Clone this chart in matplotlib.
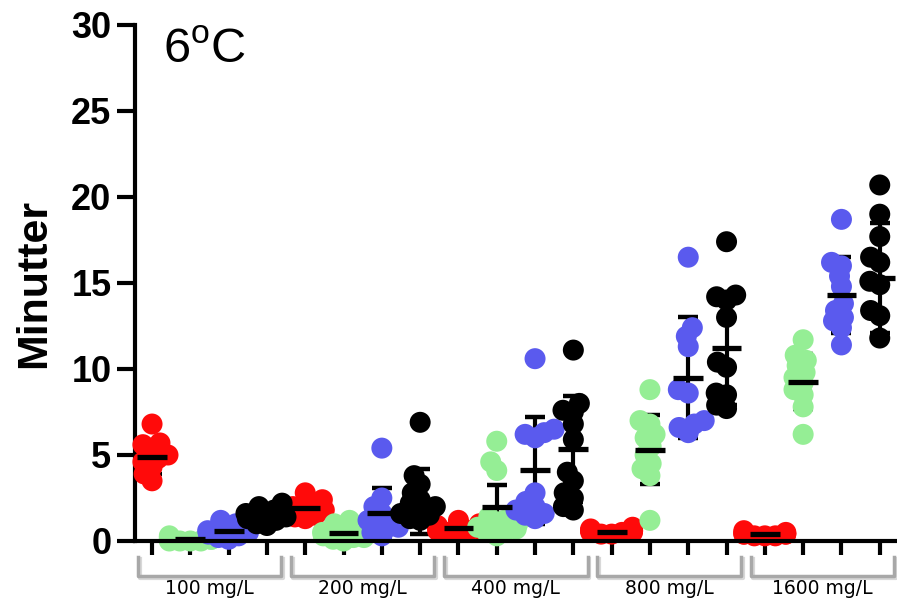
import numpy as np
import matplotlib
matplotlib.use("Agg")
import matplotlib.pyplot as plt
import matplotlib.transforms as mtransforms

# ---------------- data ----------------
groups = ["100 mg/L", "200 mg/L", "400 mg/L", "800 mg/L", "1600 mg/L"]
series_colors = ["#ff0a0a", "#95ee95", "#5a5aee", "#000000"]

red_vals = [
    [6.8, 5.7, 5.6, 5.3, 5.0, 4.8, 4.6, 4.3, 3.9, 3.5],
    [2.8, 2.4, 2.1, 1.9, 1.8, 1.6, 1.4, 1.3, 1.5, 2.0],
    [1.2, 1.0, 0.9, 0.8, 0.7, 0.6, 0.5, 0.5, 0.8, 0.6],
    [0.8, 0.7, 0.6, 0.5, 0.5, 0.4, 0.6, 0.5, 0.4, 0.6],
    [0.6, 0.5, 0.4, 0.4, 0.3, 0.3, 0.4, 0.5, 0.3, 0.4],
]
green_vals = [
    [0.3, 0.2, 0.1, 0.1, 0.0, 0.0, 0.0, 0.1, 0.2, 0.0],
    [1.2, 1.0, 0.7, 0.5, 0.3, 0.2, 0.1, 0.0, 0.4, 0.2],
    [5.8, 4.6, 4.1, 1.4, 1.2, 1.0, 0.8, 0.6, 0.5, 0.3, 0.9, 0.7],
    [8.8, 7.0, 6.8, 6.2, 6.0, 5.5, 5.0, 4.5, 4.2, 3.8, 1.2],
    [11.7, 10.8, 10.5, 10.2, 9.8, 9.5, 9.2, 8.8, 8.5, 7.8, 6.2],
]
blue_vals = [
    [1.2, 1.0, 0.8, 0.7, 0.6, 0.5, 0.4, 0.3, 0.2, 0.1],
    [5.4, 2.5, 2.0, 1.6, 1.2, 1.0, 0.8, 0.5, 0.3, 0.8],
    [10.6, 6.5, 6.3, 6.2, 6.0, 2.8, 2.3, 2.0, 1.8, 1.6, 1.5, 1.3],
    [16.5, 12.4, 11.9, 11.3, 8.8, 8.6, 7.0, 6.8, 6.6, 6.3],
    [18.7, 16.2, 16.0, 15.4, 14.8, 13.8, 13.4, 13.0, 12.8, 12.4, 11.4],
]
black_vals = [
    [2.2, 2.0, 1.8, 1.6, 1.5, 1.4, 1.2, 1.0, 0.9, 1.3],
    [6.9, 3.8, 3.3, 2.8, 2.4, 2.0, 1.8, 1.5, 1.3, 1.2, 1.6, 2.2],
    [11.1, 8.0, 7.6, 7.5, 6.8, 5.9, 4.0, 3.5, 2.8, 2.5, 2.0, 1.8],
    [17.4, 14.3, 14.2, 14.0, 13.0, 10.4, 10.1, 8.6, 8.5, 7.9, 7.7],
    [20.7, 19.0, 17.7, 16.5, 16.2, 15.1, 14.9, 13.4, 13.1, 11.8],
]

# means and SD bars
red_mean = [4.9, 1.9, 0.75, 0.55, 0.4]
red_sd = [1.0, 0.5, 0.25, 0.15, 0.15]
green_mean = [0.1, 0.47, 2.0, 5.3, 9.25]
green_sd = [0.1, 0.4, 1.25, 2.0, 1.6]
blue_mean = [0.58, 1.6, 4.1, 9.5, 14.3]
blue_sd = [0.3, 1.5, 3.1, 3.5, 2.2]
black_mean = [1.5, 2.3, 5.35, 11.2, 15.3]
black_sd = [0.5, 1.9, 3.1, 3.3, 3.2]

yticks = [0, 5, 10, 15, 20, 25, 30]

all_vals = [red_vals, green_vals, blue_vals, black_vals]
all_mean = [red_mean, green_mean, blue_mean, black_mean]
all_sd = [red_sd, green_sd, blue_sd, black_sd]

# ---------------- figure ----------------
W, H, DPI = 897, 600, 100
fig = plt.figure(figsize=(W / DPI, H / DPI), dpi=DPI)
ax_left, ax_bottom = 135 / W, 1 - 541 / H
ax_h = (541 - 25) / H
ax = fig.add_axes([ax_left, ax_bottom, 1 - ax_left, ax_h])

xmin, xmax = -0.445, -0.445 + (W - 135) / 38.3
ax.set_xlim(xmin, xmax)
ax.set_ylim(0, 30)

px_per_x = 38.3
px_per_y = 516 / 30.0


def swarm(values, d=10.5, maxw=21.0):
    """simple beeswarm offsets (pixel space -> data units)"""
    vals = np.asarray(values, float)
    order = np.argsort(vals)
    placed = []
    offs = np.zeros(len(vals))
    for idx in order:
        y = vals[idx] * px_per_y
        cands = [0.0]
        for (px, py) in placed:
            dy = y - py
            if abs(dy) < d:
                dx = np.sqrt(d * d - dy * dy)
                cands += [px + dx, px - dx]
        cands = sorted(cands, key=lambda c: (abs(c), c))
        chosen = cands[-1]
        for c in cands:
            ok = all((c - px) ** 2 + (y - py) ** 2 >= d * d - 1e-6 for px, py in placed)
            if ok:
                chosen = c
                break
        chosen = max(-maxw, min(maxw, chosen))
        placed.append((chosen, y))
        offs[idx] = chosen / px_per_x
    return offs


ms_pts = 21 * 72 / DPI
for si, (vals, means, sds, col) in enumerate(zip(all_vals, all_mean, all_sd, series_colors)):
    for gi in range(len(groups)):
        xc = gi * 4 + si
        v = vals[gi]
        off = swarm(v)
        m, s = means[gi], sds[gi]
        # error bar (behind points)
        ax.plot([xc, xc], [m - s, m + s], color="black", lw=3, zorder=2,
                solid_capstyle="butt", clip_on=False)
        for yy in (m - s, m + s):
            ax.plot([xc - 0.26, xc + 0.26], [yy, yy], color="black", lw=3.2,
                    zorder=2, solid_capstyle="butt", clip_on=False)
        ax.scatter(xc + off, v, s=ms_pts ** 2, color=col, edgecolors="none",
                   zorder=3 + si * 0.1, clip_on=False)
        ax.plot([xc - 0.39, xc + 0.39], [m, m], color="black", lw=3.8,
                zorder=5, solid_capstyle="butt", clip_on=False)

# axes styling
for sp in ["top", "right"]:
    ax.spines[sp].set_visible(False)
ax.spines["left"].set_linewidth(3)
ax.spines["bottom"].set_linewidth(3)
ax.spines["bottom"].set_zorder(6)
ax.set_yticks(yticks)
ax.set_yticklabels([str(t) for t in yticks], fontfamily="Liberation Sans",
                   fontweight="bold", fontsize=26)
ax.tick_params(axis="y", length=13, width=3, pad=4)
ax.set_xticks(np.arange(20))
ax.set_xticklabels([])
ax.tick_params(axis="x", length=10, width=3)
ax.set_ylabel("Minutter", fontfamily="Liberation Sans", fontweight="bold",
              fontsize=31, labelpad=12)

# group brackets and labels
trans = mtransforms.blended_transform_factory(ax.transData, ax.transAxes)
y_top = (541 - 557) / 516
y_bot = (541 - 576) / 516
for gi, g in enumerate(groups):
    x0 = gi * 4 - 0.37
    x1 = gi * 4 + 3 + 0.37
    ax.plot([x0 + 0.05, x0 + 0.05, x1 + 0.05, x1 + 0.05],
            [y_top - 0.004, y_bot - 0.004, y_bot - 0.004, y_top - 0.004],
            color="#d8d8d8", lw=3, transform=trans, clip_on=False, zorder=1)
    ax.plot([x0, x0, x1, x1], [y_top, y_bot, y_bot, y_top], color="#a8a8a8",
            lw=2.5, transform=trans, clip_on=False, zorder=2)
    ax.text(gi * 4 + 1.5, (541 - 589) / 516, g, transform=trans,
            ha="center", va="center", fontsize=13.5, fontfamily="DejaVu Sans")

fig.text(163 / W, 1 - 63 / H, "6$^{\\mathregular{o}}$C", fontsize=35,
         fontfamily="Liberation Sans", ha="left", va="baseline")

fig.savefig("out.png", dpi=DPI)
